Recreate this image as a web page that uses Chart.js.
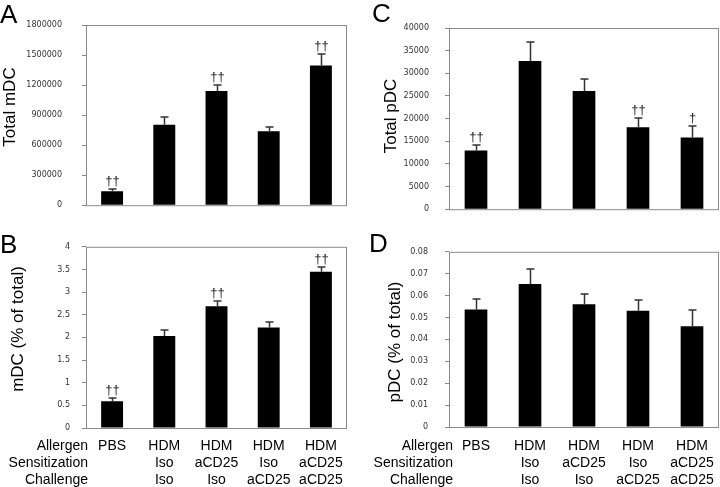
<!DOCTYPE html>
<html>
<head>
<meta charset="utf-8">
<script src="https://cdn.jsdelivr.net/npm/chart.js@4.4.1/dist/chart.umd.min.js"></script>
<style>
  html, body { margin: 0; padding: 0; background: #fff; }
  #wrap { position: relative; width: 720px; height: 487px; overflow: hidden; }
  canvas { position: absolute; }
</style>
</head>
<body>
<div id="wrap">
  <canvas id="chartA" width="360" height="230" style="left:0;top:0"></canvas>
  <canvas id="chartB" width="360" height="257" style="left:0;top:230px"></canvas>
  <canvas id="chartC" width="360" height="230" style="left:360px;top:0"></canvas>
  <canvas id="chartD" width="360" height="257" style="left:360px;top:230px"></canvas>
</div>
<script>
// groups: allergen / sensitization / challenge
const groups = [
  ['PBS', '', ''],
  ['HDM', 'Iso', 'Iso'],
  ['HDM', 'aCD25', 'Iso'],
  ['HDM', 'Iso', 'aCD25'],
  ['HDM', 'aCD25', 'aCD25']
];
const rowNames = ['Allergen', 'Sensitization', 'Challenge'];

// A - total mDC
const mdcTotal = [139000, 804000, 1141000, 739000, 1395000];
const mdcTotalErr = [21000, 77000, 59000, 47000, 117000];
const mdcTotalSig = ['††', '', '††', '', '††'];
const mdcTotalTicks = ['0', '300000', '600000', '900000', '1200000', '1500000', '1800000'];

// B - mDC % of total
const mdcPct = [0.59, 2.03, 2.69, 2.22, 3.45];
const mdcPctErr = [0.07, 0.13, 0.11, 0.12, 0.10];
const mdcPctSig = ['††', '', '††', '', '††'];
const mdcPctTicks = ['0', '0.5', '1', '1.5', '2', '2.5', '3', '3.5', '4'];

// C - total pDC
const pdcTotal = [12950, 32700, 26100, 18100, 15850];
const pdcTotalErr = [1300, 4130, 2690, 2130, 2620];
const pdcTotalSig = ['††', '', '', '††', '†'];
const pdcTotalTicks = ['0', '5000', '10000', '15000', '20000', '25000', '30000', '35000', '40000'];

// D - pDC % of total
const pdcPct = [0.0536, 0.0653, 0.0560, 0.0531, 0.0460];
const pdcPctErr = [0.0047, 0.0069, 0.0046, 0.0051, 0.0073];
const pdcPctSig = ['', '', '', '', ''];
const pdcPctTicks = ['0', '0.01', '0.02', '0.03', '0.04', '0.05', '0.06', '0.07', '0.08'];

const AXIS = '#8a8a8a';
const SANS = '"Liberation Sans", Arial, sans-serif';

// frame, error bars, daggers, panel letter, y title, row names
const extras = {
  id: 'extras',
  afterDatasetsDraw(chart, args, o) {
    const ctx = chart.ctx;
    const a = chart.chartArea;
    const y = chart.scales.y;
    ctx.save();
    ctx.strokeStyle = AXIS;
    ctx.lineWidth = 1;
    ctx.strokeRect(a.left + 0.5, a.top + 0.5, a.right - a.left - 1, a.bottom - a.top);

    const meta = chart.getDatasetMeta(0);
    ctx.strokeStyle = '#333';
    ctx.lineWidth = 1.5;
    ctx.fillStyle = '#222';
    ctx.font = '13px ' + SANS;
    ctx.textAlign = 'center';
    ctx.textBaseline = 'bottom';
    meta.data.forEach((bar, i) => {
      const top = Math.round(y.getPixelForValue(o.values[i] + o.errs[i]));
      const x = Math.round(bar.x) + 0.5;
      ctx.beginPath();
      ctx.moveTo(x, bar.y);
      ctx.lineTo(x, top);
      ctx.moveTo(x - 4, top);
      ctx.lineTo(x + 4, top);
      ctx.stroke();
      if (o.sigs[i]) ctx.fillText(o.sigs[i], x, top - 1);
    });
    ctx.restore();
  },
  afterDraw(chart, args, o) {
    const ctx = chart.ctx;
    ctx.save();
    ctx.fillStyle = '#000';
    ctx.font = '26px ' + SANS;
    ctx.textAlign = 'left';
    ctx.textBaseline = 'alphabetic';
    ctx.fillText(o.letter, o.letterX, o.letterY);

    ctx.font = '17px ' + SANS;
    ctx.translate(o.titleX, o.titleY);
    ctx.rotate(-Math.PI / 2);
    ctx.textAlign = 'center';
    ctx.textBaseline = 'middle';
    ctx.fillText(o.title, 0, 0);
    ctx.restore();

    if (o.rowsX) {
      const xs = chart.scales.x;
      ctx.save();
      ctx.fillStyle = '#000';
      ctx.font = '14px ' + SANS;
      ctx.textAlign = 'right';
      ctx.textBaseline = 'middle';
      rowNames.forEach((r, i) => {
        ctx.fillText(r, o.rowsX, xs.top + o.rowY + 17 * i);
      });
      ctx.restore();
    }
  }
};

function makeChart(id, cfg) {
  const H = cfg.height;
  return new Chart(document.getElementById(id), {
    type: 'bar',
    data: {
      labels: cfg.bottom ? groups : groups.map(g => g[0]),
      datasets: [{
        data: cfg.values,
        backgroundColor: '#000',
        borderWidth: 0,
        barPercentage: 0.42,
        categoryPercentage: 1
      }]
    },
    options: {
      responsive: false,
      animation: false,
      devicePixelRatio: 1,
      layout: { padding: { left: 0, top: cfg.top, right: cfg.right, bottom: 0 } },
      plugins: {
        legend: { display: false },
        tooltip: { enabled: false },
        extras: {
          values: cfg.values, errs: cfg.errs, sigs: cfg.sigs,
          letter: cfg.letter, letterX: cfg.letterX, letterY: cfg.letterY,
          title: cfg.title, titleX: cfg.titleX, titleY: cfg.titleY,
          rowsX: cfg.rowsX, rowY: cfg.rowY
        }
      },
      scales: {
        x: {
          grid: { display: false },
          border: { display: false },
          ticks: {
            display: !!cfg.bottom,
            color: '#000',
            padding: cfg.labelPad || 0,
            maxRotation: 0,
            autoSkip: false,
            font: { family: SANS, size: 14, lineHeight: 17 / 14 }
          },
          afterFit: s => { s.height = H - cfg.bottomY; }
        },
        y: {
          min: 0,
          max: cfg.max,
          grid: { drawOnChartArea: false, drawTicks: true, tickLength: 4, color: AXIS },
          border: { display: false },
          ticks: {
            stepSize: cfg.step,
            padding: cfg.tickPad,
            color: '#333',
            font: { family: '"DejaVu Sans", Verdana, sans-serif', size: 8 },
            callback: (v, i) => cfg.ticks[i]
          },
          afterFit: s => { s.width = cfg.left; }
        }
      }
    },
    plugins: [extras]
  });
}

makeChart('chartA', {
  height: 230, top: 25, bottomY: 219, left: 86, right: 13, max: 1800000, step: 300000,
  values: mdcTotal, errs: mdcTotalErr, sigs: mdcTotalSig, ticks: mdcTotalTicks, tickPad: 20,
  letter: 'A', letterX: 0, letterY: 23, title: 'Total mDC', titleX: 10, titleY: 107
});
makeChart('chartB', {
  height: 257, top: 12, bottomY: 198, left: 86, right: 13, max: 4, step: 0.5, bottom: true,
  values: mdcPct, errs: mdcPctErr, sigs: mdcPctSig, ticks: mdcPctTicks, tickPad: 12,
  letter: 'B', letterX: 0, letterY: 23, title: 'mDC (% of total)', titleX: 18, titleY: 99,
  rowsX: 88, rowY: 18, labelPad: 2
});
makeChart('chartC', {
  height: 230, top: 28, bottomY: 222, left: 89, right: 1, max: 40000, step: 5000,
  values: pdcTotal, errs: pdcTotalErr, sigs: pdcTotalSig, ticks: pdcTotalTicks, tickPad: 16,
  letter: 'C', letterX: 12, letterY: 22, title: 'Total pDC', titleX: 31, titleY: 116
});
makeChart('chartD', {
  height: 257, top: 10, bottomY: 197, left: 89, right: 1, max: 0.08, step: 0.01, bottom: true,
  values: pdcPct, errs: pdcPctErr, sigs: pdcPctSig, ticks: pdcPctTicks, tickPad: 17,
  letter: 'D', letterX: 9, letterY: 22, title: 'pDC (% of total)', titleX: 35, titleY: 112,
  rowsX: 93, rowY: 19, labelPad: 3
});
</script>
</body>
</html>
